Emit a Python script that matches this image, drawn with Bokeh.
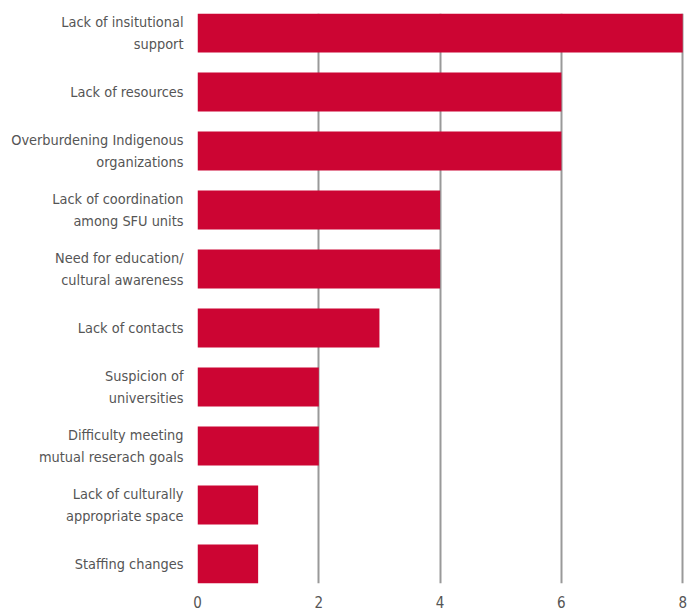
from bokeh.plotting import figure
from bokeh.models import Range1d, FixedTicker
from bokeh.embed import file_html
from bokeh.resources import INLINE

categories = [
    "Lack of insitutional\nsupport",
    "Lack of resources",
    "Overburdening Indigenous\norganizations",
    "Lack of coordination\namong SFU units",
    "Need for education/\ncultural awareness",
    "Lack of contacts",
    "Suspicion of\nuniversities",
    "Difficulty meeting\nmutual reserach goals",
    "Lack of culturally\nappropriate space",
    "Staffing changes",
]
values = [8, 6, 6, 4, 4, 3, 2, 2, 1, 1]
x_ticks = [0, 2, 4, 6, 8]

FONT = "'Liberation Sans Narrow', 'DejaVu Sans Condensed', 'Roboto Condensed', sans-serif"

n = len(categories)
ys = list(range(n))

p = figure(width=692, height=613, output_backend="svg", toolbar_location=None,
           x_range=Range1d(0, 8.03), y_range=Range1d(n - 1 + 0.33, -0.33),
           min_border_left=197, min_border_right=8, min_border_top=13, min_border_bottom=30)
p.outline_line_color = None
p.background_fill_color = "white"
p.border_fill_color = "white"

p.hbar(y=ys, right=values, left=0, height=0.66, color="#CC0533", line_color=None)

p.ygrid.grid_line_color = None
p.xgrid.ticker = FixedTicker(ticks=x_ticks)
p.xgrid.grid_line_color = "#999999"
p.xgrid.grid_line_width = 2
p.xgrid.level = "underlay"

p.xaxis.ticker = FixedTicker(ticks=x_ticks)
p.xaxis.axis_line_color = None
p.xaxis.major_tick_line_color = None
p.xaxis.minor_tick_line_color = None
p.xaxis.major_tick_out = 0
p.xaxis.major_tick_in = 0
p.xaxis.minor_tick_out = 0
p.xaxis.minor_tick_in = 0
p.xaxis.major_label_standoff = 12
p.xaxis.major_label_text_font = FONT
p.xaxis.major_label_text_font_size = "15px"
p.xaxis.major_label_text_color = "#555555"

p.yaxis.ticker = FixedTicker(ticks=ys)
p.yaxis.major_label_overrides = {i: c for i, c in enumerate(categories)}
p.yaxis.axis_line_color = None
p.yaxis.major_tick_line_color = None
p.yaxis.minor_tick_line_color = None
p.yaxis.major_tick_out = 0
p.yaxis.major_tick_in = 0
p.yaxis.minor_tick_out = 0
p.yaxis.minor_tick_in = 0
p.yaxis.major_label_standoff = 14
p.yaxis.major_label_text_font = FONT
p.yaxis.major_label_text_font_size = "14.4px"
p.yaxis.major_label_text_color = "#555555"
p.yaxis.major_label_text_line_height = 1.4

open("out.html", "w").write(file_html(p, INLINE))
